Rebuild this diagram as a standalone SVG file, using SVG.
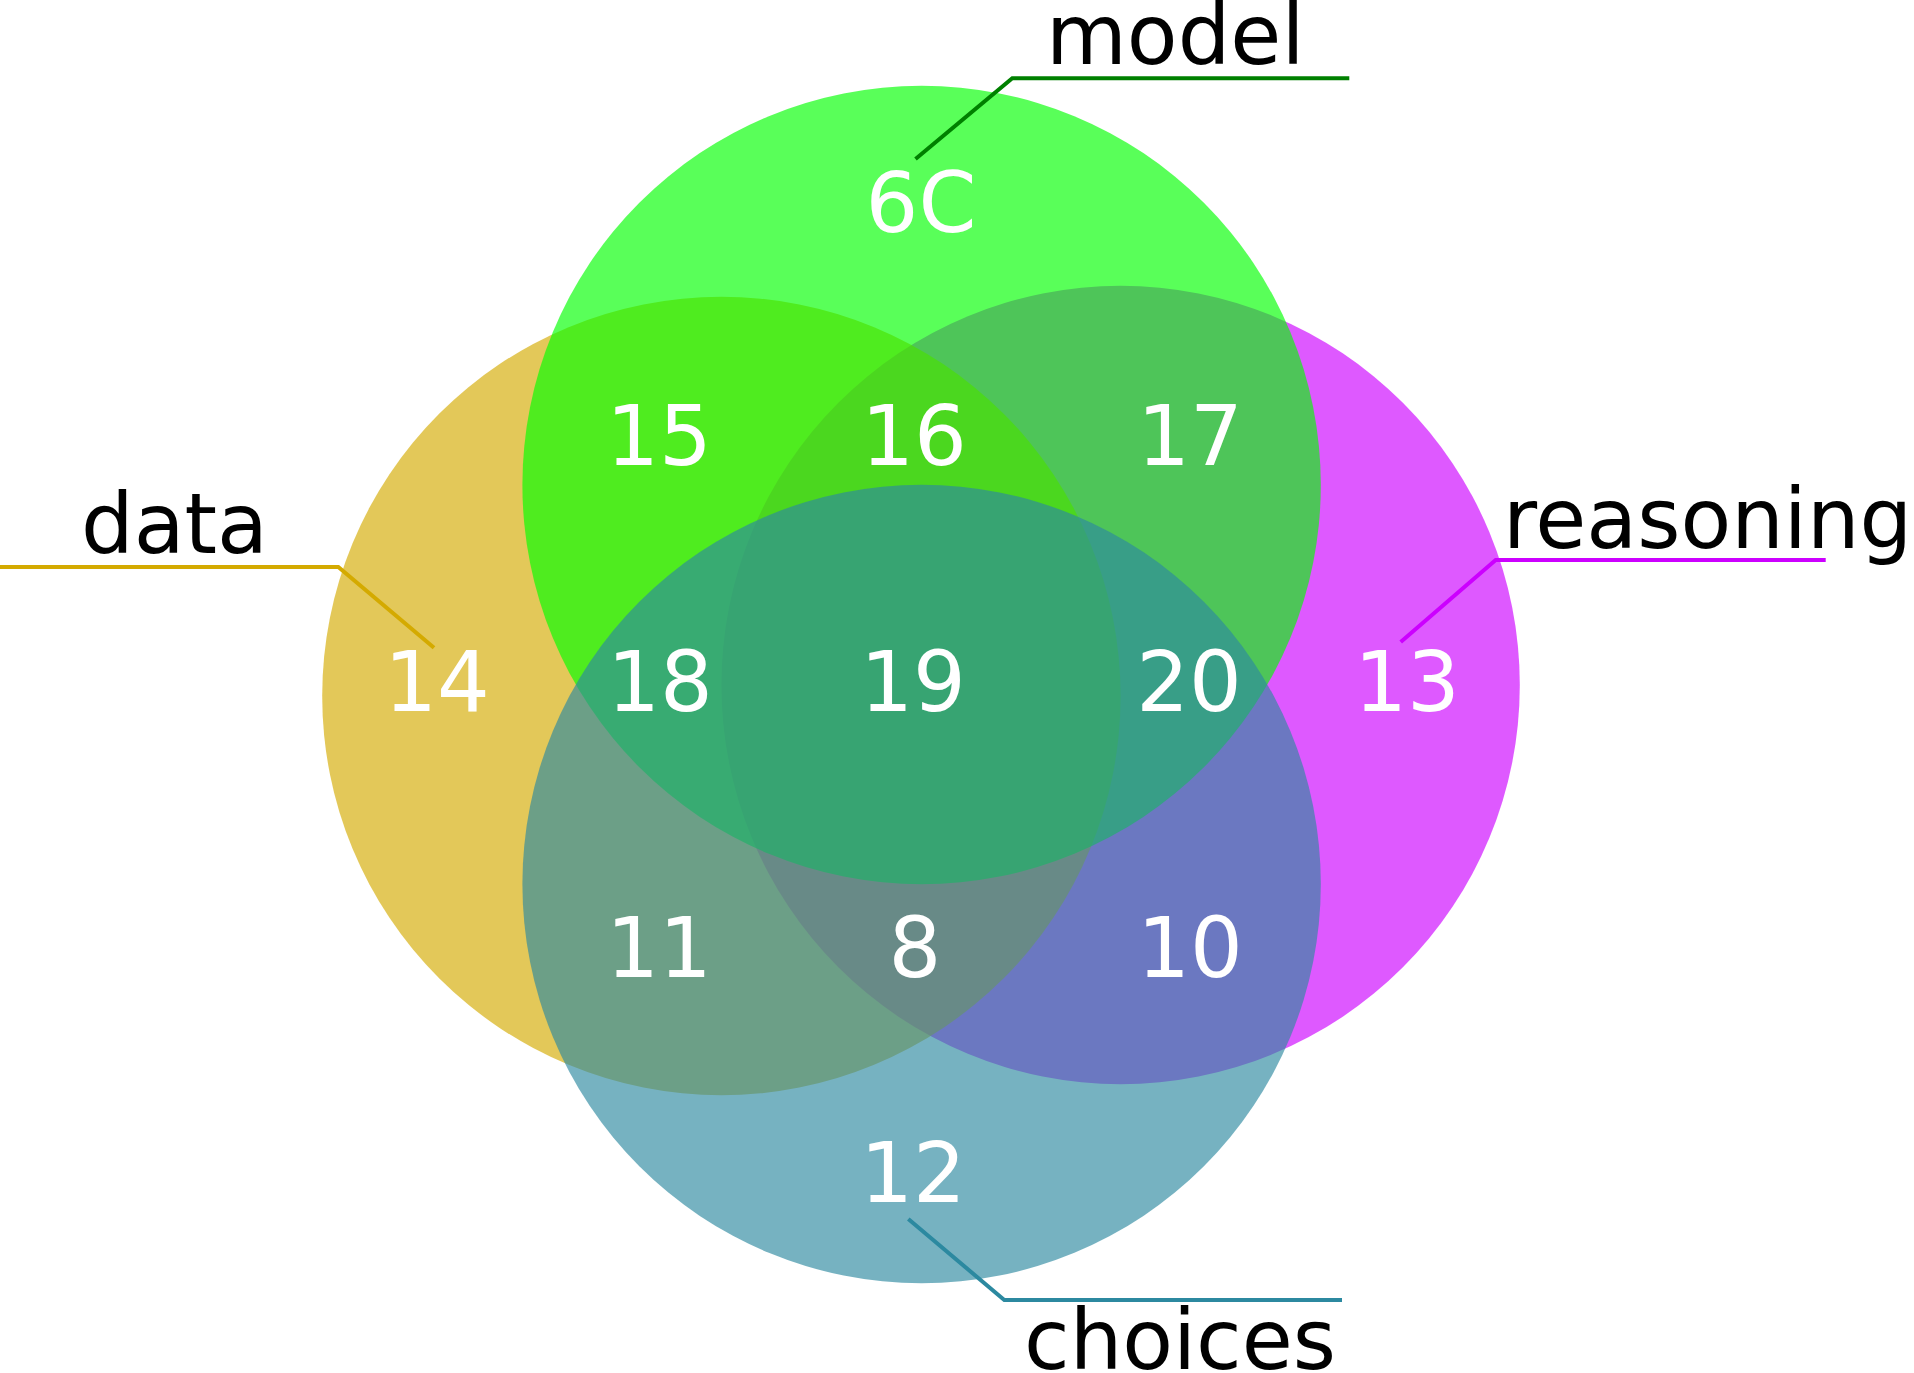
<svg xmlns="http://www.w3.org/2000/svg" width="1914" height="1373" viewBox="0 0 1914 1373">
<style>
.set{fill-opacity:0.65;stroke:none}
.lead{fill:none;stroke-width:4}
.lbl{font-family:"DejaVu Sans",sans-serif;font-size:83px;fill:#000}
.num{font-family:"DejaVu Sans",sans-serif;font-size:83px;fill:#fff;text-anchor:middle}
</style>
<rect width="1914" height="1373" fill="#fff"/>
<g id="sets">
<circle id="reasoning" class="set" cx="1120.6" cy="685" r="399.2" fill="#cc00ff"/>
<circle id="data" class="set" cx="721.4" cy="696" r="399.2" fill="#d4aa00"/>
<circle id="model" class="set" cx="921.6" cy="485" r="399.2" fill="#00ff00"/>
<circle id="choices" class="set" cx="921.6" cy="884" r="399.2" fill="#2c89a0"/>
</g>
<g id="connectors">
<polyline class="lead" stroke="#008000" points="915.5,159 1012.3,78.3 1349.3,78.3"/>
<polyline class="lead" stroke="#d4aa00" points="0,567 338.3,567 434,647.7"/>
<polyline class="lead" stroke="#cc00ff" points="1400.7,642 1495.7,560 1825.7,560"/>
<polyline class="lead" stroke="#2c89a0" points="908.3,1219 1004.3,1300 1342,1300"/>
</g>
<g id="labels">
<text id="label-model" class="lbl" x="1046" y="64">model</text>
<text id="label-data" class="lbl" x="81" y="553">data</text>
<text id="label-reasoning" class="lbl" x="1503" y="548">reasoning</text>
<text id="label-choices" class="lbl" x="1024" y="1369">choices</text>
</g>
<g id="counts">
<text class="num" x="921" y="232">6C</text>
<text class="num" x="659" y="465">15</text>
<text class="num" x="914" y="465">16</text>
<text class="num" x="1190" y="465">17</text>
<text class="num" x="437" y="711">14</text>
<text class="num" x="660" y="711">18</text>
<text class="num" x="913" y="711">19</text>
<text class="num" x="1189" y="711">20</text>
<text class="num" x="1407" y="711">13</text>
<text class="num" x="659" y="977">11</text>
<text class="num" x="915" y="977">8</text>
<text class="num" x="1190" y="977">10</text>
<text class="num" x="913" y="1202">12</text>
</g>
</svg>
